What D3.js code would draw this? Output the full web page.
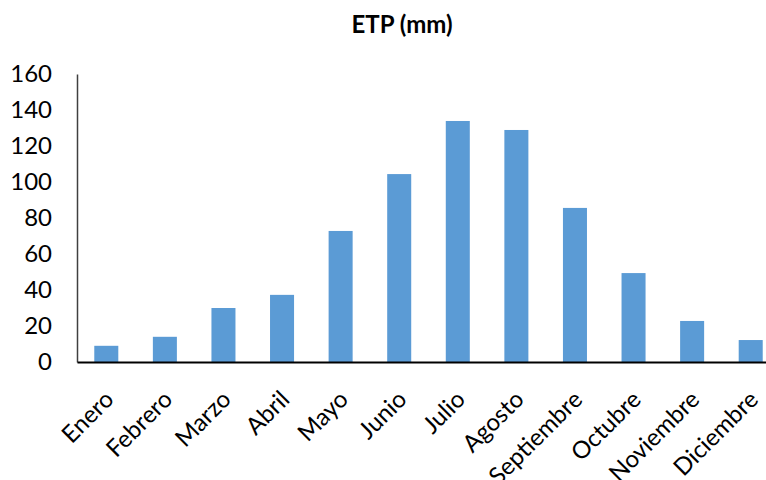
<!DOCTYPE html>
<meta charset="utf-8">
<script src="https://cdn.jsdelivr.net/npm/d3@7"></script>
<style>
  body { margin: 0; background: #fff; }
  text { font-family: Lato, "Noto Sans", sans-serif; fill: #000; }
  .axis text { font-size: 24px; }
  .title { font-size: 24px; font-weight: 700; }
</style>
<body>
<script>

// ETP per month (mm)
var months = ["Enero", "Febrero", "Marzo", "Abril", "Mayo", "Junio",
              "Julio", "Agosto", "Septiembre", "Octubre", "Noviembre", "Diciembre"];
var etp = [9, 14, 30, 37.3, 72.8, 104.4, 133.9, 128.9, 85.6, 49.4, 22.8, 12.2];
var yTicks = [0, 20, 40, 60, 80, 100, 120, 140, 160];

var width = 766,
    height = 480;

var margin = {top: 74, left: 77, bottom: 118};
var plotRight = 780;   // plot area runs a bit past the picture edge

var svg = d3.select("body").append("svg")
    .attr("width", width)
    .attr("height", height);

var x = d3.scaleBand()
    .domain(months)
    .range([margin.left, plotRight])
    .paddingInner(0.59)
    .paddingOuter(0.295);

var y = d3.scaleLinear()
    .domain([0, 160])
    .range([height - margin.bottom, margin.top]);

// bars
svg.append("g")
  .selectAll("rect")
  .data(etp)
  .enter().append("rect")
    .attr("x", function(d, i) { return x(months[i]); })
    .attr("y", function(d) { return y(d); })
    .attr("width", x.bandwidth())
    .attr("height", function(d) { return y(0) - y(d); })
    .attr("fill", "#5b9bd5");

// y axis
var yAxis = svg.append("g")
    .attr("class", "axis")
    .attr("transform", "translate(" + margin.left + ",0)")
    .call(d3.axisLeft(y).tickValues(yTicks).tickSize(0).tickPadding(25));
yAxis.select(".domain").attr("stroke", "#404040").attr("stroke-width", 1.5);

// x axis
var xAxis = svg.append("g")
    .attr("class", "axis")
    .attr("transform", "translate(0," + y(0) + ")")
    .call(d3.axisBottom(x).tickSize(0).tickSizeOuter(0));
xAxis.select(".domain").attr("stroke", "#000").attr("stroke-width", 2);

xAxis.selectAll(".tick text")
    .attr("text-anchor", "end")
    .attr("y", 0)
    .attr("dy", "0.35em")
    .attr("transform", "translate(3,33) rotate(-45)");

// title
svg.append("text")
    .attr("class", "title")
    .attr("x", 402)
    .attr("y", 33)
    .attr("text-anchor", "middle")
    .text("ETP (mm)");

</script>
</body>
